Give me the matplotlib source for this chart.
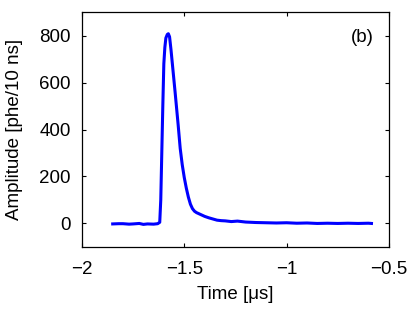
import matplotlib.pyplot as plt
import numpy as np

plt.rcParams['font.family'] = ['Liberation Sans', 'DejaVu Sans']

# pulse (time in us, amplitude in phe/10 ns)
time = [-1.85, -1.82, -1.80, -1.77, -1.75, -1.72, -1.70, -1.68, -1.65, -1.63,
        -1.62, -1.615, -1.61, -1.605, -1.60, -1.595, -1.59, -1.583, -1.578,
        -1.572, -1.565, -1.555, -1.545, -1.53, -1.52, -1.51, -1.50, -1.49,
        -1.48, -1.47, -1.46, -1.45, -1.44, -1.42, -1.40, -1.38, -1.36, -1.34,
        -1.32, -1.30, -1.27, -1.24, -1.20, -1.15, -1.10, -1.05, -1.00, -0.95,
        -0.90, -0.85, -0.80, -0.75, -0.70, -0.65, -0.60, -0.585]
amplitude = [-2, -1, -1, -3, -2, 0, -4, -2, -3, -1,
             5, 100, 300, 500, 680, 750, 790, 805, 808,
             795, 740, 650, 560, 420, 320, 250, 195, 150,
             112, 82, 63, 52, 46, 38, 30, 24, 19, 14,
             12, 11, 8, 10, 6, 4, 3, 2, 3, 1,
             2, 0, 1, 0, 1, 0, 1, 0]

x_ticks = [-2, -1.5, -1, -0.5]
x_tick_labels = ['\u22122', '\u22121.5', '\u22121', '\u22120.5']
y_ticks = [0, 200, 400, 600, 800]

fig = plt.figure(figsize=(4.15, 3.11), dpi=100)
ax = fig.add_axes([0.1976, 0.206, 0.7394, 0.755])
ax.plot(time, amplitude, color='#0000ff', linewidth=2.2)

ax.set_xlim(-2, -0.5)
ax.set_ylim(-100, 900)
ax.set_xticks(x_ticks)
ax.set_xticklabels(x_tick_labels)
ax.set_yticks(y_ticks)
ax.tick_params(direction='in', length=3, width=0.8, top=True, right=True,
               labelsize=13.5)
ax.tick_params(axis='x', pad=10)
ax.tick_params(axis='y', pad=8)
for s in ax.spines.values():
    s.set_linewidth(0.9)

ax.set_xlabel('Time [\u03bcs]', fontsize=13.5, labelpad=6)
ax.set_ylabel('Amplitude [phe/10 ns]', fontsize=13.5, labelpad=12)
ax.text(0.912, 0.89, '(b)', transform=ax.transAxes, fontsize=13.5,
        ha='center', va='center')

fig.savefig('out.png', dpi=100)
